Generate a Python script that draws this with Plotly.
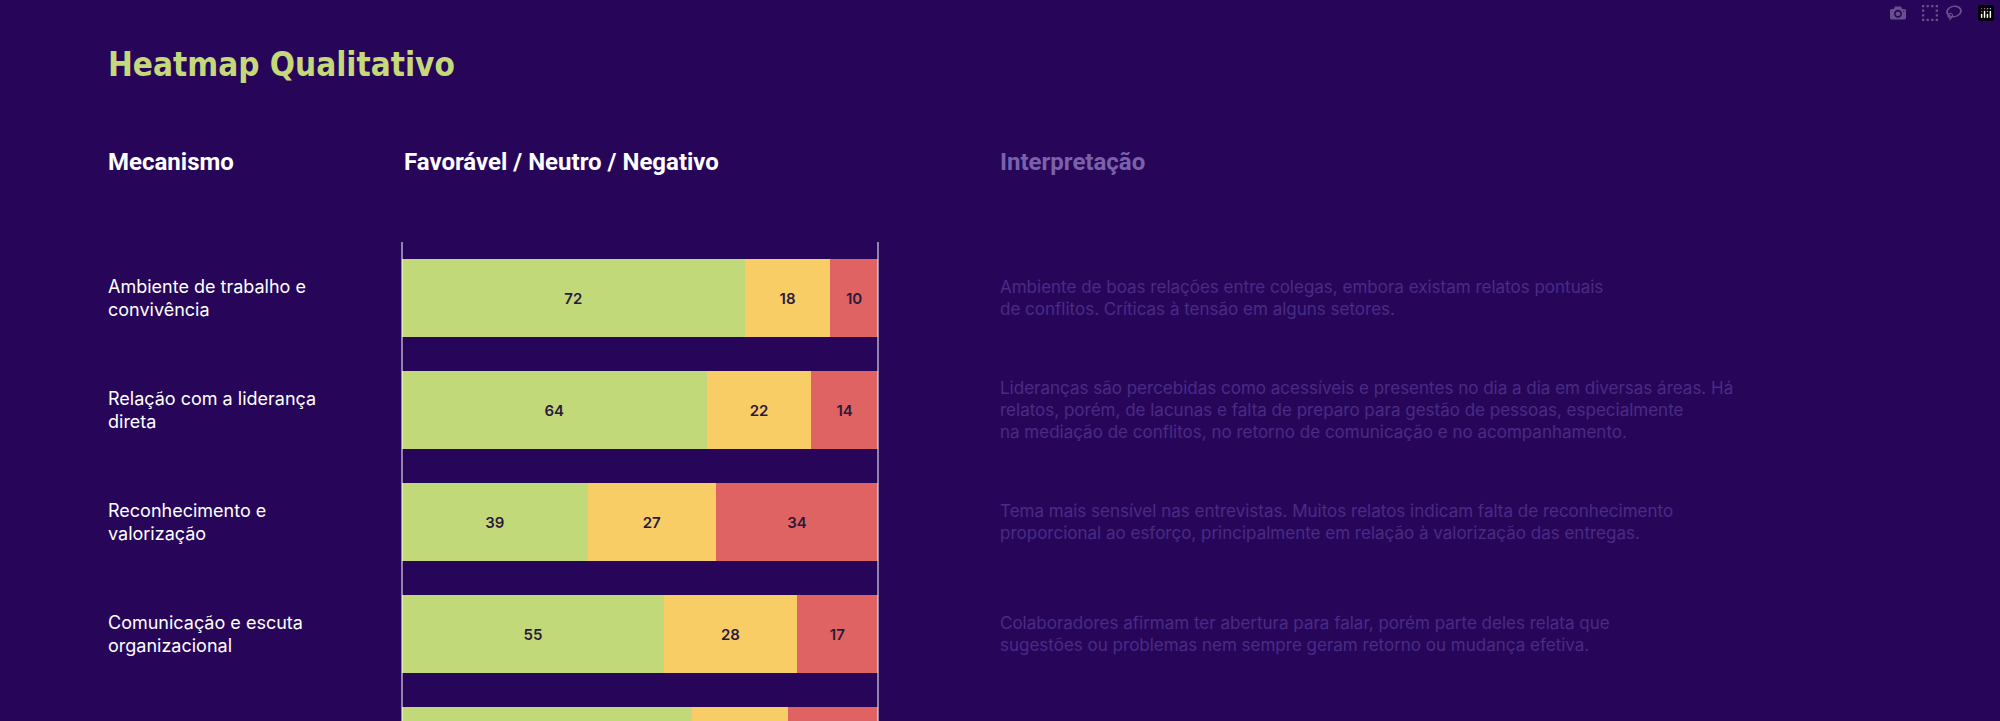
import plotly.graph_objects as go

W, H = 2000, 721

# Data
mecanismos = [
    "Ambiente de trabalho e<br>convivência",
    "Relação com a liderança<br>direta",
    "Reconhecimento e<br>valorização",
    "Comunicação e escuta<br>organizacional",
    "Desenvolvimento e<br>carreira",
]
favoravel = [72, 64, 39, 55, 61]
neutro = [18, 22, 27, 28, 20]
negativo = [10, 14, 34, 17, 19]
interpretacao = [
    "Ambiente de boas relações entre colegas, embora existam relatos pontuais<br>de conflitos. Críticas à tensão em alguns setores.",
    "Lideranças são percebidas como acessíveis e presentes no dia a dia em diversas áreas. Há<br>relatos, porém, de lacunas e falta de preparo para gestão de pessoas, especialmente<br>na mediação de conflitos, no retorno de comunicação e no acompanhamento.",
    "Tema mais sensível nas entrevistas. Muitos relatos indicam falta de reconhecimento<br>proporcional ao esforço, principalmente em relação à valorização das entregas.",
    "Colaboradores afirmam ter abertura para falar, porém parte deles relata que<br>sugestões ou problemas nem sempre geram retorno ou mudança efetiva.",
    "",
]

BG = "#27065a"
colors = {"Favorável": "#c2d97a", "Neutro": "#f8cd66", "Negativo": "#e06363"}
rows = list(range(len(mecanismos)))
visible_rows = 4  # last row is cut by the bottom edge, its labels are not shown

fig = go.Figure()
for name, vals in [("Favorável", favoravel), ("Neutro", neutro), ("Negativo", negativo)]:
    labels = [str(v) if i < visible_rows else "" for i, v in enumerate(vals)]
    fig.add_trace(go.Bar(
        y=rows, x=vals, orientation="h", name=name,
        marker=dict(color=colors[name], line=dict(width=0)),
        width=0.69, text=labels, textposition="inside", insidetextanchor="middle",
        textfont=dict(family="Inter", size=15, color="#2a1a3a", weight=600),
        hoverinfo="skip",
    ))

top = 242
ydom = (H - top) / H
fig.update_layout(
    width=W, height=H, barmode="stack", showlegend=False,
    paper_bgcolor=BG, plot_bgcolor=BG,
    margin=dict(l=0, r=0, t=0, b=0),
    xaxis=dict(domain=[402 / W, 878 / W], range=[0, 100], visible=False, fixedrange=True),
    yaxis=dict(domain=[0, ydom], range=[(H - top) / 112 - 0.5, -0.5], visible=False, fixedrange=True),
    font=dict(family="Inter", color="white"),
)

# row labels and interpretation
for i, m in enumerate(mecanismos[:visible_rows]):
    fig.add_annotation(x=106 / W, xref="paper", y=i, yref="y", text=m, showarrow=False,
                       xanchor="left", yanchor="middle", align="left",
                       font=dict(family="Inter", size=18, color="white"))
    if interpretacao[i]:
        fig.add_annotation(x=998 / W, xref="paper", y=i, yref="y", text=interpretacao[i],
                           showarrow=False, xanchor="left", yanchor="middle", align="left",
                           font=dict(family="Inter", size=17, color="#4a2b85"))

# title and headers
fig.add_annotation(x=106 / W, y=1 - 65 / H, xref="paper", yref="paper", text="<b>Heatmap Qualitativo</b>",
                   showarrow=False, xanchor="left", yanchor="middle",
                   font=dict(family="DejaVu Sans Condensed", size=33, color="#c5d97a"))
for x, txt, col in [(106, "Mecanismo", "white"), (402, "Favorável / Neutro / Negativo", "white"),
                    (998, "Interpretação", "#7a62ab")]:
    fig.add_annotation(x=x / W, y=1 - 162 / H, xref="paper", yref="paper", text=f"<b>{txt}</b>",
                       showarrow=False, xanchor="left", yanchor="middle",
                       font=dict(family="Roboto", size=24, color=col))

# vertical guide lines
for x in (402, 878):
    fig.add_shape(type="line", xref="paper", yref="paper", x0=x / W, x1=x / W, y0=0, y1=ydom,
                  line=dict(color="white", width=1))

fig.write_html("out.html", post_script="document.body.style.margin='0';document.body.style.background='#27065a';")
